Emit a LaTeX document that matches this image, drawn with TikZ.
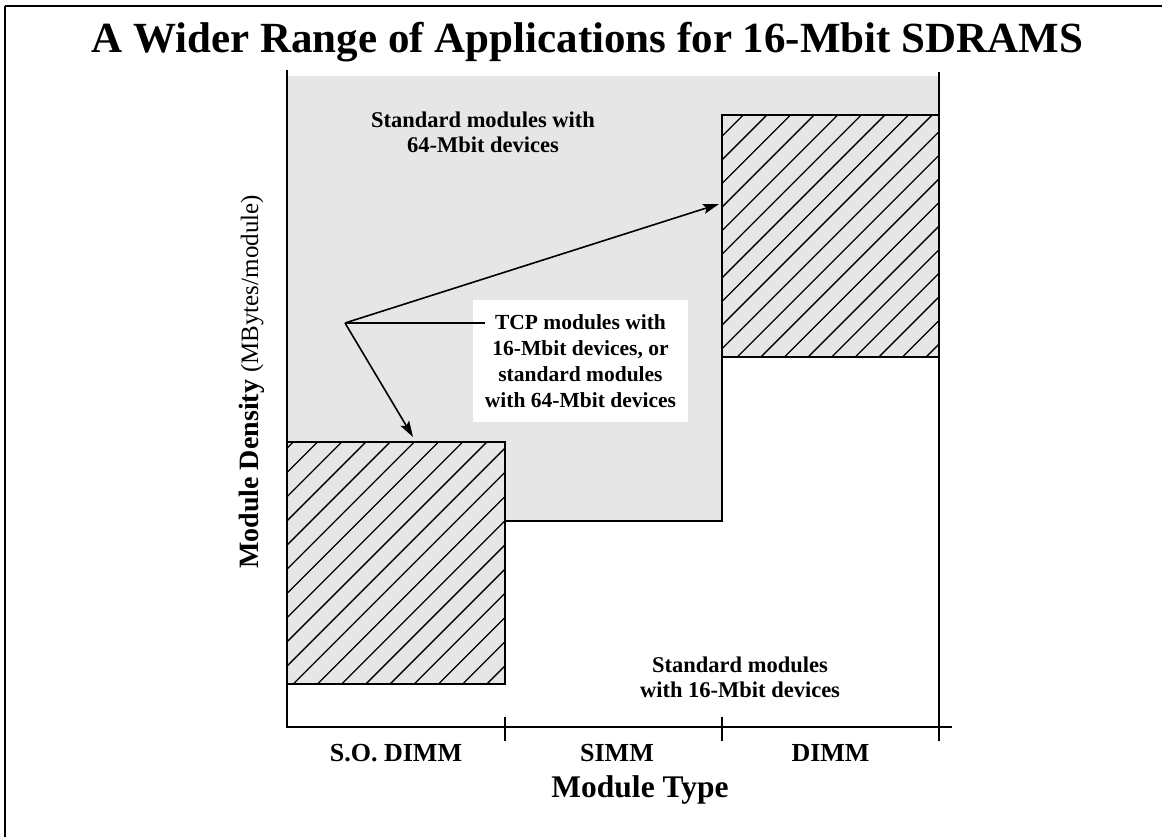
\documentclass[tikz,border=0pt]{standalone}
\usepackage{fontspec}
\setmainfont{Liberation Serif}
\usetikzlibrary{arrows.meta,calc}
\definecolor{regiongray}{RGB}{230,230,230}
\tikzset{
  frameline/.style={line width=2pt},
  axisline/.style={line width=2pt},
  boxline/.style={line width=2pt},
  hatchline/.style={line width=1.3pt},
  pointer/.style={line width=1.6pt},
  pointertip/.style={-{Stealth[length=16pt,width=10pt,inset=3pt]}},
  titletext/.style={font=\fontsize{43}{50}\selectfont\bfseries, anchor=base, inner sep=0pt},
  regiontext/.style={font=\fontsize{22.5}{25}\selectfont\bfseries, align=center, inner sep=0pt},
  tcptext/.style={font=\fontsize{21.5}{26}\selectfont\bfseries, align=center, inner sep=0pt},
  ticktext/.style={font=\fontsize{26}{30}\selectfont\bfseries, anchor=base, inner sep=0pt},
  axistext/.style={font=\fontsize{31.5}{36}\selectfont\bfseries, anchor=base, inner sep=0pt},
  hbox/.style={draw=none, fill=regiongray, inner sep=0pt, outer sep=0pt},
}
\begin{document}
\begin{tikzpicture}[x=1pt, y=-1pt]
\useasboundingbox (0,0) rectangle (1162,837);

% outer frame (only its top and left edges fall inside the page)
\draw[frameline] (5,6.5) -- (5,900) (5,6.5) -- (1200,6.5);

% title
\node[titletext] (title) at (587.5,53) {A Wider Range of Applications for 16-Mbit SDRAMS};

% shaded region: standard modules with 64-Mbit devices
\fill[regiongray] (287,76) -- (939,76) -- (939,357) -- (722,357) -- (722,521)
  -- (505,521) -- (505,442) -- (287,442) -- cycle;

% hatched boxes: TCP modules
\node[hbox, minimum width=218pt, minimum height=242pt] (sodimm) at (396,563) {};
\node[hbox, minimum width=217pt, minimum height=242pt] (dimm) at (830.5,236) {};
\begin{scope}
  \clip (sodimm.south west) rectangle (sodimm.north east);
  \foreach \k in {-2,...,21}
    \draw[hatchline] ({735.3+24.2*\k-430},430) -- ({735.3+24.2*\k-700},700);
\end{scope}
\begin{scope}
  \clip (dimm.south west) rectangle (dimm.north east);
  \foreach \k in {-2,...,21}
    \draw[hatchline] ({858.3+23.6*\k-100},100) -- ({858.3+23.6*\k-370},370);
\end{scope}
\draw[boxline] (sodimm.south west) rectangle (sodimm.north east);
\draw[boxline] (dimm.south west) rectangle (dimm.north east);

% boundary of the shaded region under the SIMM column
\draw[boxline] (sodimm.east |- 0,521) -- (722,521) -- (dimm.south west);

% axes and ticks
\coordinate (origin) at (287,727);
\draw[axisline] (287,70) -- (origin) -- (952,727);
\draw[axisline] (939,72) -- (939,741);
\draw[axisline] (505,717) -- (505,741);
\draw[axisline] (722,717) -- (722,741);

% axis labels
\node[ticktext] (lsodimm) at (396,761) {S.O. DIMM};
\node[ticktext] (lsimm) at (617,761) {SIMM};
\node[ticktext] (ldimm) at (830.5,761) {DIMM};
\node[axistext] (xlabel) at (640,797) {Module Type};
\node[rotate=90, anchor=base, inner sep=0pt] (ylabel) at (258,382)
  {\fontsize{28}{32}\selectfont\bfseries Module Density \fontsize{25}{28}\selectfont\mdseries (MBytes/module)};

% region labels
\node[regiontext] (std64) at (483,132) {Standard modules with\\64-Mbit devices};
\node[regiontext] (std16) at (740,677) {Standard modules\\with 16-Mbit devices};
\node[tcptext, fill=white, minimum width=215pt, minimum height=122pt] (tcp) at (580.5,361)
  {TCP modules with\\16-Mbit devices, or\\standard modules\\with 64-Mbit devices};

% pointers
\coordinate (hub) at (345,323);
\coordinate (tipA) at (719,204);
\coordinate (tipB) at (413,437);
\draw[pointer] ($(tcp.west |- hub)+(12,0)$) -- (hub);
\draw[pointer, pointertip] (hub) -- (tipA);
\draw[pointer, pointertip] (hub) -- (tipB);
\end{tikzpicture}
\end{document}
